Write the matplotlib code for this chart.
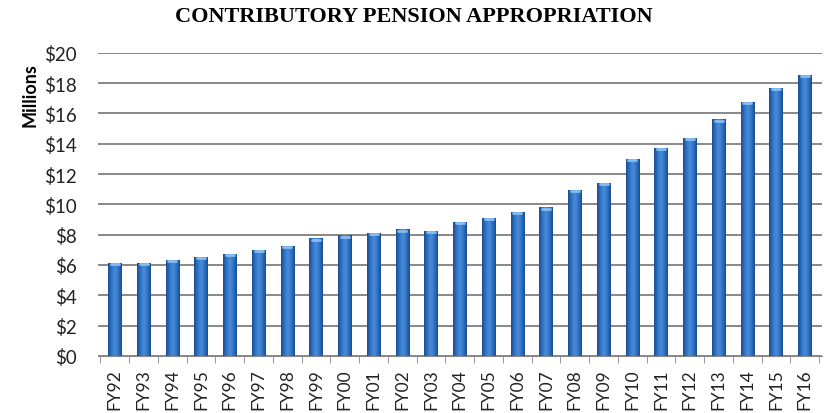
import numpy as np
import matplotlib
matplotlib.use("Agg")
import matplotlib.pyplot as plt
from matplotlib.colors import LinearSegmentedColormap

years = ["FY92", "FY93", "FY94", "FY95", "FY96", "FY97", "FY98", "FY99", "FY00",
         "FY01", "FY02", "FY03", "FY04", "FY05", "FY06", "FY07", "FY08", "FY09",
         "FY10", "FY11", "FY12", "FY13", "FY14", "FY15", "FY16"]
appropriation = [6.15, 6.15, 6.35, 6.55, 6.75, 7.0, 7.25, 7.75, 7.95,
                 8.1, 8.35, 8.25, 8.85, 9.1, 9.5, 9.8, 10.95, 11.4,
                 13.0, 13.75, 14.4, 15.6, 16.75, 17.7, 18.55]
y_ticks = np.arange(0, 21, 2)

plt.rcParams['font.family'] = ['Lato', 'DejaVu Sans']

fig = plt.figure(figsize=(8.27, 4.14), dpi=100)
ax = fig.add_axes([0.118, 0.138, 0.876, 0.732])

x = np.arange(len(years))
bars = ax.bar(x, appropriation, width=0.46, color='#2C6CC0', zorder=3)

# cylinder-like shading on each bar
cyl = LinearSegmentedColormap.from_list('cyl', ['#1B4C8E', '#2F74C6', '#4A8CDA', '#2F74C6', '#1B4C8E'])
grad = np.linspace(0, 1, 64).reshape(1, -1)
for b in bars:
    x0, w, h = b.get_x(), b.get_width(), b.get_height()
    im = ax.imshow(grad, cmap=cyl, aspect='auto', extent=[x0, x0 + w, 0, h], zorder=3)
    im.set_clip_path(b)
    ax.plot([x0 + w * 0.2, x0 + w * 0.8], [h - 0.08, h - 0.08], color='#86BCF0', lw=2, zorder=4,
            solid_capstyle='round')

ax.set_ylim(0, 20)
ax.set_yticks(y_ticks)
ax.set_yticklabels([f"${v}" for v in y_ticks], fontsize=13.5, color='#222222')
ax.set_xticks(x)
ax.set_xticklabels(years, rotation=90, fontsize=12.5, color='#222222')
ax.set_xticks(np.arange(-0.5, len(years), 1), minor=True)
ax.tick_params(axis='x', which='major', length=0, pad=9)
ax.tick_params(axis='x', which='minor', length=5, color='#888888')
ax.tick_params(axis='y', length=0, pad=15)

ax.grid(axis='y', color='#7F7F7F', lw=1.3, zorder=0)
for s in ['top', 'right', 'left']:
    ax.spines[s].set_visible(False)
ax.spines['bottom'].set_color('#888888')
ax.set_xlim(-0.6, len(years) - 0.4)

fig.text(0.5, 0.958, "CONTRIBUTORY PENSION APPROPRIATION", ha='center', va='center',
         fontsize=16, fontweight='bold', family='Liberation Serif')
fig.text(0.036, 0.77, "Millions", rotation=90, ha='center', va='center',
         fontsize=13, fontweight='bold')

fig.savefig("out.png", dpi=100)
